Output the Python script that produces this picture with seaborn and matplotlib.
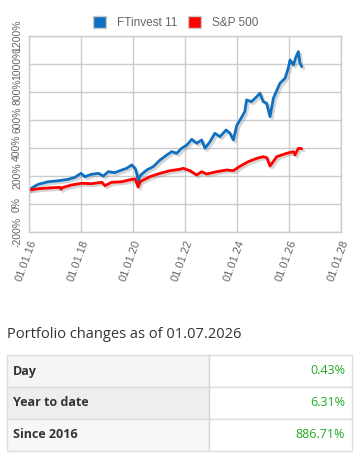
import numpy as np
import pandas as pd
import matplotlib
matplotlib.use('Agg')
import matplotlib.pyplot as plt
import matplotlib.patheffects as pe
from matplotlib.patches import Rectangle, Patch
import seaborn as sns

# Donnees (annee decimale, variation en %)
ft_years = [2016.0, 2016.2, 2016.36, 2016.74, 2017.13, 2017.5, 2017.77, 2018.0, 2018.15, 2018.4,
            2018.67, 2018.86, 2019.05, 2019.3, 2019.57, 2019.76, 2019.95, 2020.08, 2020.15, 2020.2,
            2020.27, 2020.35, 2020.53, 2020.78, 2021.04, 2021.3, 2021.49, 2021.68, 2021.87, 2022.07,
            2022.26, 2022.45, 2022.64, 2022.77, 2022.96, 2023.15, 2023.35, 2023.58, 2023.73, 2023.86,
            2023.99, 2024.18, 2024.3, 2024.37, 2024.56, 2024.76, 2024.88, 2025.01, 2025.14, 2025.27,
            2025.4, 2025.65, 2025.85, 2025.97, 2026.04, 2026.17, 2026.27, 2026.36, 2026.42, 2026.49]
ft_values = [100, 125, 141, 159, 166, 176, 191, 219, 195, 212,
             219, 200, 231, 224, 243, 255, 279, 255, 215, 160,
             200, 215, 243, 267, 314, 350, 374, 362, 398, 421,
             462, 434, 457, 398, 445, 505, 481, 529, 505, 457,
             560, 620, 660, 743, 731, 767, 791, 731, 719, 624,
             755, 862, 898, 969, 1029, 993, 1052, 1088, 1005, 981]

sp_years = [2016.0, 2016.36, 2016.87, 2017.2, 2017.23, 2017.3, 2017.64, 2018.03, 2018.4, 2018.8,
            2018.92, 2019.18, 2019.57, 2019.95, 2020.08, 2020.2, 2020.27, 2020.65, 2021.04, 2021.42,
            2021.8, 2021.93, 2022.19, 2022.45, 2022.64, 2022.83, 2023.22, 2023.6, 2023.86, 2024.12,
            2024.43, 2024.76, 2025.01, 2025.15, 2025.27, 2025.53, 2025.91, 2026.17, 2026.23, 2026.36,
            2026.49]
sp_values = [100, 109, 116, 119, 105, 118, 136, 148, 145, 155,
             131, 155, 159, 176, 179, 121, 159, 195, 219, 238,
             248, 255, 238, 207, 231, 214, 231, 243, 238, 270,
             302, 326, 338, 330, 271, 338, 362, 374, 350, 398,
             395]

series_names = ['FTinvest 11', 'S&P 500']
series_colors = ['#0f6fc0', '#ff0000']

x_ticks = [2016, 2018, 2020, 2022, 2024, 2026, 2028]
x_labels = ['01.01.16', '01.01.18', '01.01.20', '01.01.22', '01.01.24', '01.01.26', '01.01.28']
y_ticks = [-200, 0, 200, 400, 600, 800, 1000, 1200]
y_labels = ['-200%', '0%', '200%', '400%', '600%', '800%', '1000%', '1200%']

table_title = 'Portfolio changes as of 01.07.2026'
row_labels = ['Day', 'Year to date', 'Since 2016']
row_values = ['0.43%', '6.31%', '886.71%']

df = pd.concat([
    pd.DataFrame({'year': ft_years, 'value': ft_values, 'serie': series_names[0]}),
    pd.DataFrame({'year': sp_years, 'value': sp_values, 'serie': series_names[1]}),
])

sns.set_style('white')
plt.rcParams['font.family'] = ['Liberation Sans', 'DejaVu Sans']

W, H = 361, 466
fig = plt.figure(figsize=(W / 100, H / 100), dpi=100)

# Fond pour le tableau (coordonnees en pixels)
bg = fig.add_axes([0, 0, 1, 1])
bg.set_xlim(0, W)
bg.set_ylim(H, 0)
bg.axis('off')

ax = fig.add_axes([29 / W, 1 - 232 / H, 312 / W, 196 / H])
sns.lineplot(data=df, x='year', y='value', hue='serie', palette=series_colors,
             hue_order=series_names, ax=ax, linewidth=2.0, legend=False, sort=False)
for line in ax.lines:
    line.set_path_effects([pe.SimpleLineShadow(offset=(1.5, -1.5), shadow_color='#888888', alpha=0.35),
                           pe.Normal()])

ax.set_xlim(2016, 2028)
ax.set_ylim(-200, 1200)
ax.set_xticks(x_ticks)
ax.set_xticklabels(x_labels, rotation=70, ha='right', va='top', rotation_mode='anchor',
                   fontsize=8, color='#666666')
ax.set_yticks(y_ticks)
ax.set_yticklabels(y_labels, rotation=90, va='center', fontsize=7.5, color='#666666')
ax.tick_params(axis='both', length=3, color='#cccccc', pad=2)
ax.grid(True, color='#cccccc', linewidth=1)
for s in ax.spines.values():
    s.set_color('#cccccc')
    s.set_linewidth(1)
ax.set_xlabel('')
ax.set_ylabel('')

handles = [Patch(facecolor=c, edgecolor='#cccccc') for c in series_colors]
ax.legend(handles, series_names, loc='lower center', bbox_to_anchor=(0.47, 1.0), ncol=2,
          frameon=False, fontsize=8.5, labelcolor='#666666', handlelength=1.1, handleheight=1.1,
          handletextpad=0.9, columnspacing=0.9, borderaxespad=0.2)

# Titre et tableau
bg.text(7, 334, table_title, fontsize=10.5, color='#333333', va='center', ha='left',
        family=['Open Sans', 'DejaVu Sans'])
row_top = 355
row_h = 32
left_bg = ['#f5f5f5', '#eeeeee', '#f7f7f7']
for i, (lab, val) in enumerate(zip(row_labels, row_values)):
    y0 = row_top + i * row_h
    bg.add_patch(Rectangle((7, y0), 202, row_h, facecolor=left_bg[i], edgecolor='#dddddd', lw=1))
    bg.add_patch(Rectangle((209, y0), 143, row_h, facecolor='white', edgecolor='#dddddd', lw=1))
    bg.text(13, y0 + row_h / 2, lab, fontsize=9, fontweight='bold', color='#333333',
            va='center', ha='left', family=['Open Sans', 'DejaVu Sans'])
    bg.text(345, y0 + row_h / 2, val, fontsize=9, color='#22aa22',
            va='center', ha='right', family=['Open Sans', 'DejaVu Sans'])
bg.plot([209, 209], [row_top, row_top + 3 * row_h], color='#cccccc', lw=0.8, ls=':')

fig.savefig('out.png', dpi=100)
